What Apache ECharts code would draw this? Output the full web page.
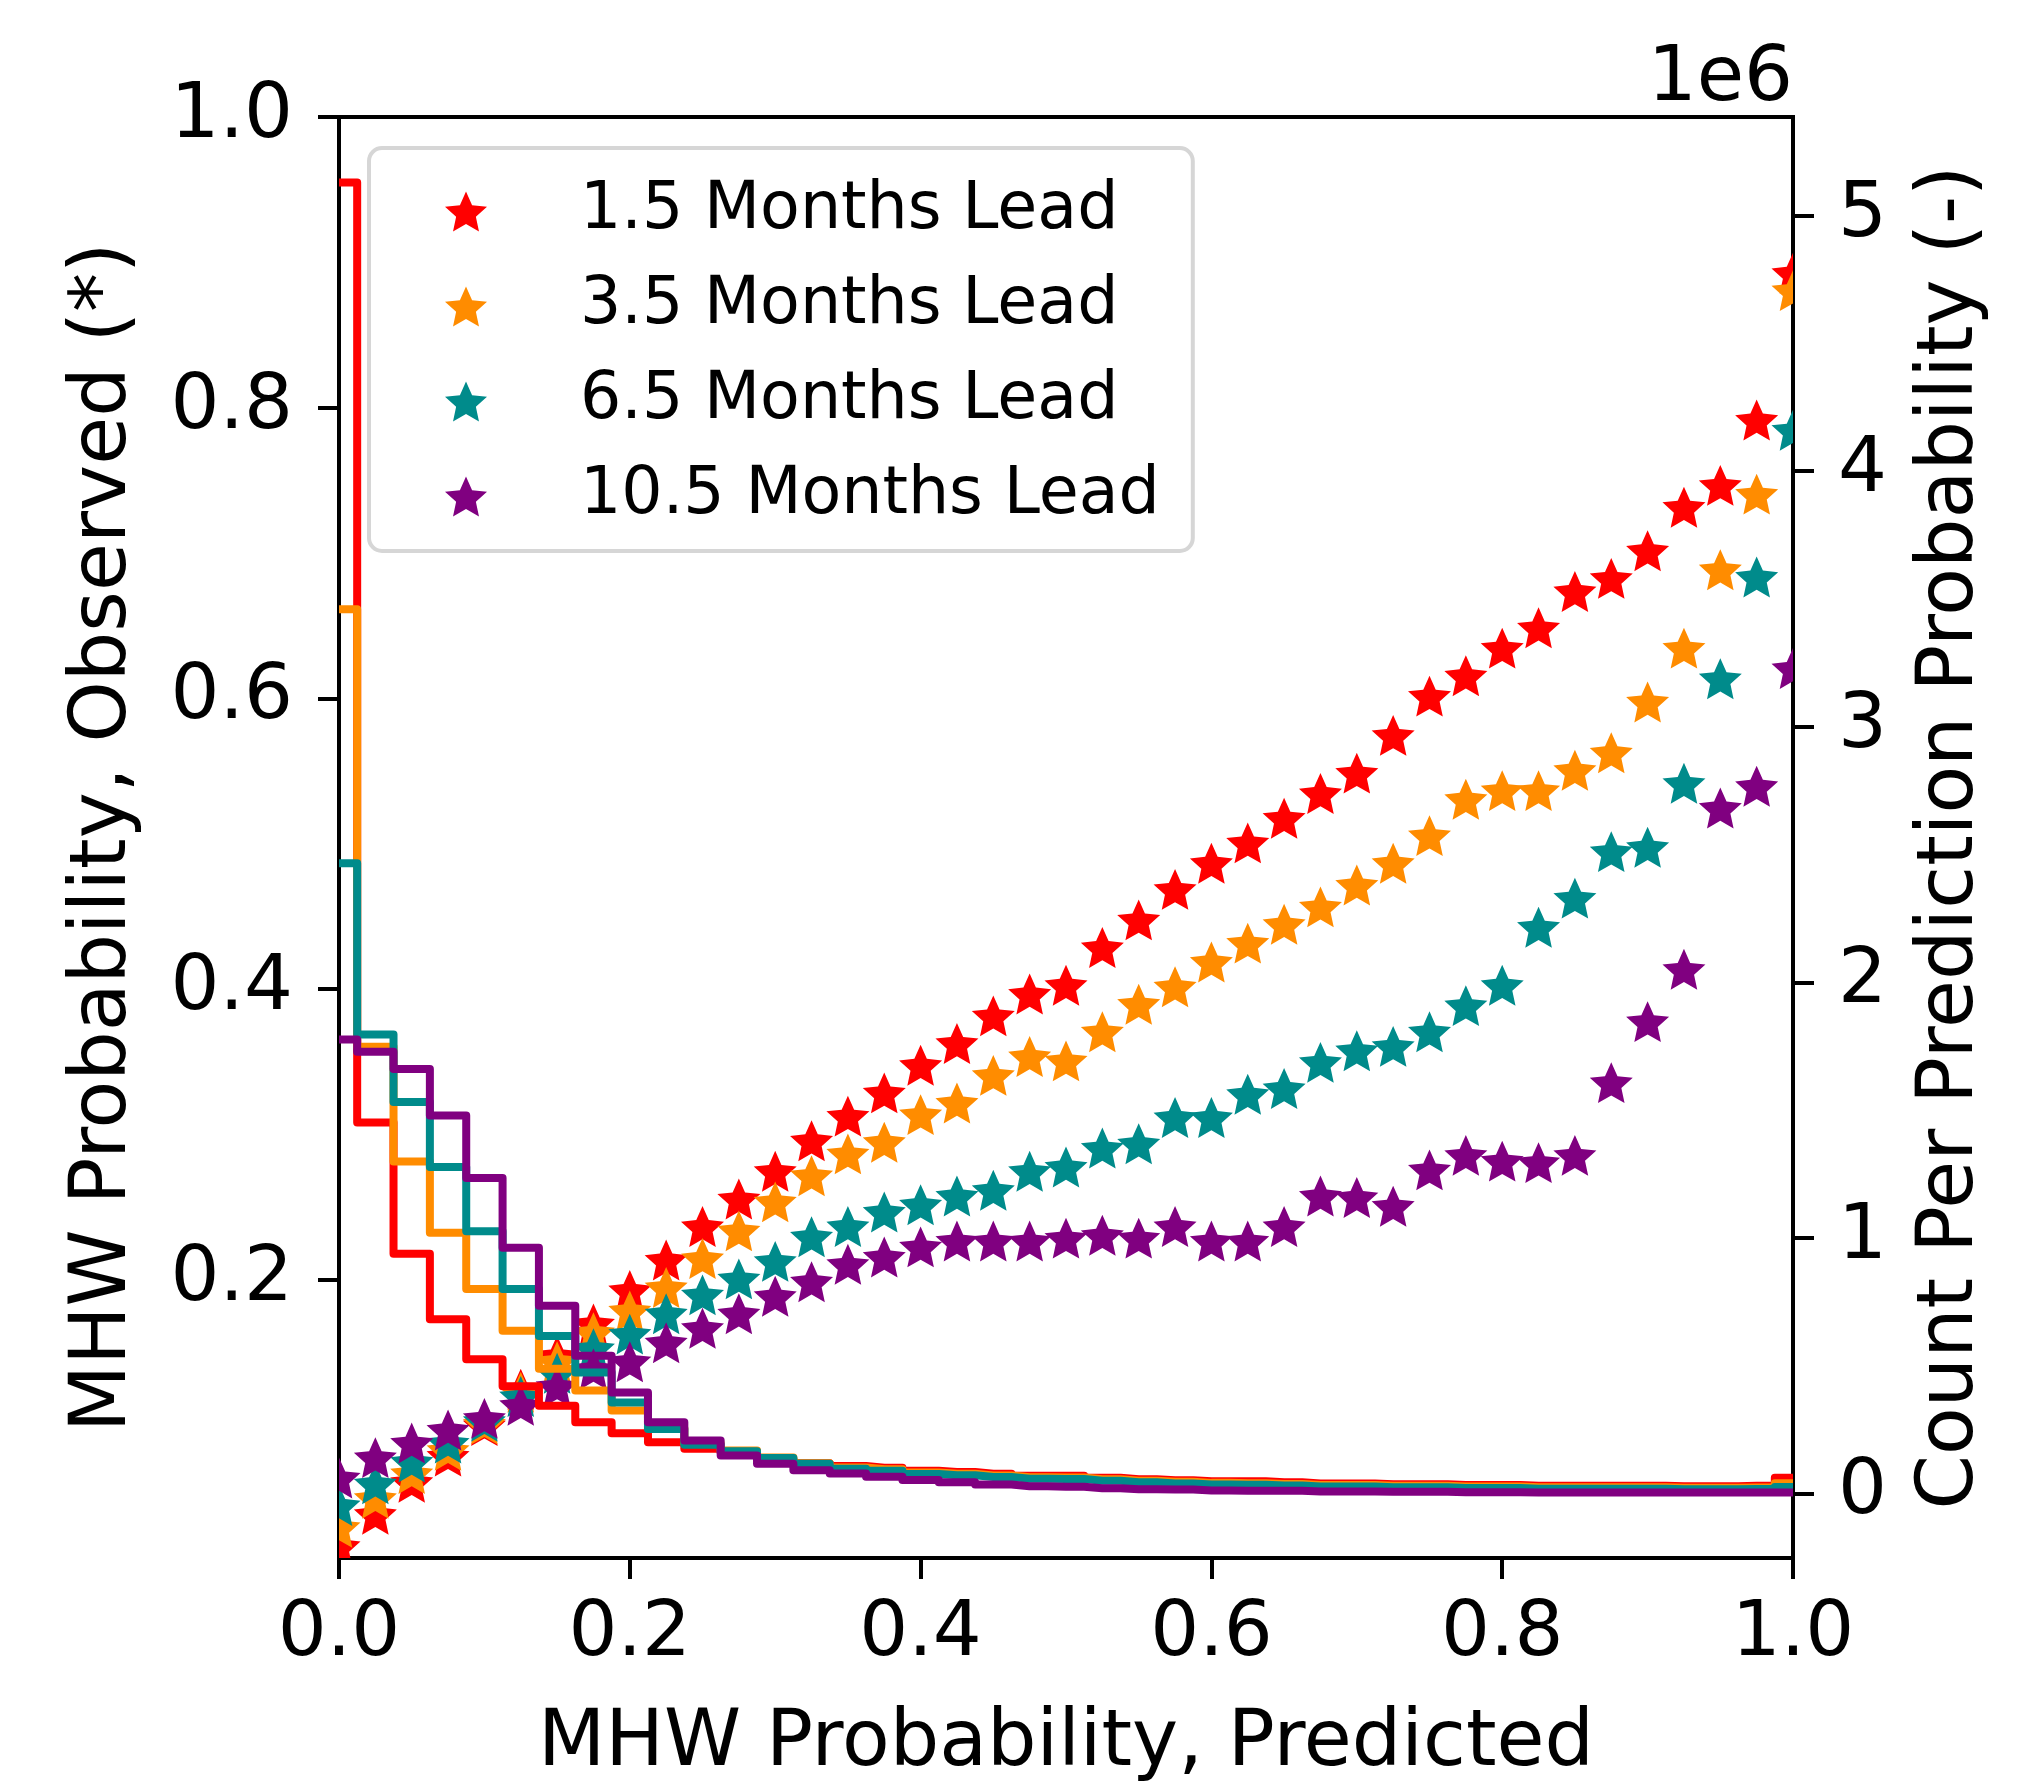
<!DOCTYPE html>
<html lang="en">
<head>
  <meta charset="UTF-8">
  <title>MHW reliability</title>
  <style>
    html, body { margin: 0; padding: 0; background: #fff; }
    #main { width: 2042px; height: 1789px; }
  </style>
</head>
<body>
  <div id="main"></div>
  <script src="https://cdn.jsdelivr.net/npm/echarts@6/dist/echarts.min.js"></script>
  <script>
    // predicted probability bins (x)
    const probBins = [0, 0.025, 0.05, 0.075, 0.1, 0.125, 0.15, 0.175, 0.2, 0.225,
      0.25, 0.275, 0.3, 0.325, 0.35, 0.375, 0.4, 0.425, 0.45, 0.475,
      0.5, 0.525, 0.55, 0.575, 0.6, 0.625, 0.65, 0.675, 0.7, 0.725,
      0.75, 0.775, 0.8, 0.825, 0.85, 0.875, 0.9, 0.925, 0.95, 0.975, 1.0];

    const leadNames = ['1.5 Months Lead', '3.5 Months Lead', '6.5 Months Lead', '10.5 Months Lead'];
    const leadColors = ['#ff0000', '#ff8c00', '#008b8b', '#800080'];

    // observed probability (stars, left axis)
    const obsLead1 = [0.015, 0.037, 0.059, 0.077, 0.098, 0.123, 0.146, 0.168, 0.191, 0.212,
      0.235, 0.254, 0.273, 0.294, 0.311, 0.327, 0.346, 0.361, 0.380, 0.395,
      0.401, 0.427, 0.446, 0.467, 0.485, 0.499, 0.516, 0.533, 0.547, 0.573,
      0.600, 0.614, 0.633, 0.647, 0.672, 0.681, 0.700, 0.730, 0.745, 0.790, 0.891];
    const obsLead3 = [0.028, 0.048, 0.065, 0.081, 0.099, 0.121, 0.142, 0.162, 0.177, 0.193,
      0.213, 0.232, 0.252, 0.270, 0.285, 0.293, 0.312, 0.320, 0.339, 0.352,
      0.349, 0.369, 0.388, 0.400, 0.417, 0.430, 0.443, 0.455, 0.470, 0.485,
      0.504, 0.529, 0.535, 0.535, 0.549, 0.561, 0.596, 0.633, 0.687, 0.739, 0.879];
    const obsLead6 = [0.043, 0.058, 0.073, 0.086, 0.101, 0.118, 0.134, 0.151, 0.161, 0.175,
      0.188, 0.199, 0.211, 0.228, 0.235, 0.245, 0.250, 0.256, 0.260, 0.273,
      0.276, 0.289, 0.292, 0.310, 0.310, 0.326, 0.330, 0.348, 0.356, 0.359,
      0.369, 0.387, 0.401, 0.441, 0.461, 0.493, 0.496, 0.540, 0.612, 0.682, 0.783];
    const obsLead10 = [0.062, 0.076, 0.086, 0.095, 0.103, 0.112, 0.125, 0.137, 0.142, 0.155,
      0.165, 0.175, 0.187, 0.197, 0.209, 0.214, 0.221, 0.225, 0.225, 0.225,
      0.227, 0.229, 0.227, 0.235, 0.225, 0.225, 0.235, 0.256, 0.255, 0.249,
      0.274, 0.284, 0.280, 0.279, 0.284, 0.334, 0.376, 0.412, 0.523, 0.538, 0.619];

    // count per prediction probability (steps, right axis, millions)
    const countLead1 = [5.130, 1.451, 0.938, 0.681, 0.525, 0.419, 0.343, 0.278, 0.235, 0.200,
      0.175, 0.160, 0.133, 0.118, 0.107, 0.100, 0.088, 0.084, 0.077, 0.069,
      0.069, 0.061, 0.055, 0.051, 0.047, 0.047, 0.043, 0.039, 0.039, 0.036,
      0.036, 0.033, 0.033, 0.030, 0.030, 0.030, 0.030, 0.028, 0.028, 0.030, 0.061];
    const countLead3 = [3.460, 1.748, 1.299, 1.020, 0.800, 0.636, 0.488, 0.402, 0.324, 0.255,
      0.195, 0.168, 0.140, 0.118, 0.101, 0.094, 0.082, 0.077, 0.070, 0.063,
      0.062, 0.055, 0.049, 0.045, 0.041, 0.040, 0.037, 0.033, 0.033, 0.030,
      0.030, 0.027, 0.027, 0.024, 0.024, 0.024, 0.024, 0.022, 0.022, 0.023, 0.040];
    const countLead6 = [2.466, 1.796, 1.531, 1.277, 1.026, 0.800, 0.616, 0.473, 0.356, 0.252,
      0.190, 0.165, 0.138, 0.116, 0.096, 0.088, 0.076, 0.071, 0.064, 0.057,
      0.056, 0.049, 0.043, 0.039, 0.035, 0.034, 0.031, 0.027, 0.027, 0.024,
      0.024, 0.021, 0.021, 0.018, 0.018, 0.018, 0.018, 0.016, 0.016, 0.017, 0.025];
    const countLead10 = [1.776, 1.728, 1.661, 1.479, 1.234, 0.961, 0.734, 0.538, 0.395, 0.278,
      0.207, 0.148, 0.116, 0.090, 0.078, 0.065, 0.052, 0.043, 0.035, 0.028,
      0.026, 0.020, 0.016, 0.015, 0.011, 0.010, 0.010, 0.007, 0.007, 0.006,
      0.006, 0.004, 0.004, 0.003, 0.003, 0.003, 0.003, 0.003, 0.003, 0.003, 0.003];

    const obsTicks = [0.2, 0.4, 0.6, 0.8, 1.0];
    const countTicks = [0, 1, 2, 3, 4, 5];

    const obsSeries = [obsLead1, obsLead3, obsLead6, obsLead10];
    const countSeries = [countLead1, countLead3, countLead6, countLead10];

    const FONT = 'DejaVu Sans';
    // fat five point star, close to matplotlib '*' with its edge line
    const STAR_PATH = 'M0,-100L27.6,-38L95.1,-30.9L44.7,14.5L58.8,80.9L0,47L-58.8,80.9L-44.7,14.5L-95.1,-30.9L-27.6,-38Z';
    const STAR_W = 43, STAR_H = 41;

    const tickStyle = { show: true, inside: false, length: 21, lineStyle: { width: 4, color: '#000' } };
    const labelFont = { fontFamily: FONT, fontSize: 77, color: '#000' };

    // stars drawn as a custom series so that they are clipped at the axes, like matplotlib
    let starSeries = leadNames.map((name, i) => ({
      name: name,
      type: 'custom',
      yAxisIndex: 0,
      clip: true,
      data: probBins.map((x, k) => [x, obsSeries[i][k]]),
      encode: { x: 0, y: 1 },
      itemStyle: { color: leadColors[i] },
      renderItem: (params, api) => {
        const p = api.coord([api.value(0), api.value(1)]);
        return {
          type: 'path',
          shape: {
            pathData: STAR_PATH,
            x: p[0] - STAR_W / 2,
            y: p[1] - STAR_H * 100 / 180.9,
            width: STAR_W,
            height: STAR_H
          },
          style: { fill: leadColors[i] }
        };
      },
      z: 2
    }));

    let stepSeries = leadNames.map((name, i) => ({
      name: 'count ' + name,
      type: 'line',
      yAxisIndex: 1,
      step: 'middle',
      data: probBins.map((x, k) => [x, countSeries[i][k]]),
      showSymbol: false,
      symbol: 'none',
      lineStyle: { width: 8, color: leadColors[i], join: 'round' },
      emphasis: { disabled: true },
      z: 3
    }));

    let myChart = echarts.init(document.getElementById('main'));
    let option = {
      animation: false,
      backgroundColor: '#fff',
      grid: {
        left: 339, top: 117, width: 1454, height: 1446,
        show: true, borderColor: '#000', borderWidth: 4
      },
      xAxis: {
        type: 'value', min: 0, max: 1, interval: 0.2,
        name: 'MHW Probability, Predicted',
        nameLocation: 'middle', nameGap: 148,
        nameTextStyle: { fontFamily: FONT, fontSize: 78, color: '#000' },
        axisLine: { show: false, onZero: false },
        axisTick: tickStyle,
        axisLabel: Object.assign({ margin: 38, formatter: v => v.toFixed(1) }, labelFont),
        splitLine: { show: false }
      },
      yAxis: [
        {
          type: 'value', position: 'left', min: 0.0084, max: 1.0,
          name: 'MHW Probability, Observed (*)',
          nameLocation: 'middle', nameGap: 195,
          nameTextStyle: { fontFamily: FONT, fontSize: 78, color: '#000' },
          axisLine: { show: false, onZero: false },
          axisTick: Object.assign({ customValues: obsTicks }, tickStyle),
          axisLabel: Object.assign({ margin: 46, padding: [8, 0, 0, 0], customValues: obsTicks, formatter: v => v.toFixed(1) }, labelFont),
          splitLine: { show: false }
        },
        {
          type: 'value', position: 'right', min: -0.253, max: 5.386,
          name: 'Count Per Prediction Probability (-)',
          nameLocation: 'middle', nameGap: 120, nameRotate: 90,
          nameTextStyle: { fontFamily: FONT, fontSize: 78, color: '#000' },
          axisLine: { show: false, onZero: false },
          axisTick: Object.assign({ customValues: countTicks }, tickStyle),
          axisLabel: Object.assign({ margin: 45, padding: [8, 0, 0, 0], customValues: countTicks, formatter: v => String(v) }, labelFont),
          splitLine: { show: false }
        }
      ],
      legend: {
        orient: 'vertical', left: 369, top: 148,
        padding: [31, 33, 22, 76],
        itemWidth: 42, itemHeight: 40, itemGap: 30,
        backgroundColor: '#fff', borderColor: '#d6d6d6', borderWidth: 4, borderRadius: 13,
        textStyle: { fontFamily: FONT, fontSize: 65, color: '#000', lineHeight: 64, padding: [0, 0, 0, 88] },
        data: leadNames.map((n, i) => ({ name: n, icon: 'path://' + STAR_PATH, itemStyle: { color: leadColors[i] } }))
      },
      graphic: [
        {
          type: 'text', x: 1793, y: 80,
          style: { text: '1e6', font: '77px "DejaVu Sans"', fill: '#000', align: 'right', verticalAlign: 'middle' }
        }
      ],
      series: starSeries.concat(stepSeries)
    };
    myChart.setOption(option);
  </script>
</body>
</html>
